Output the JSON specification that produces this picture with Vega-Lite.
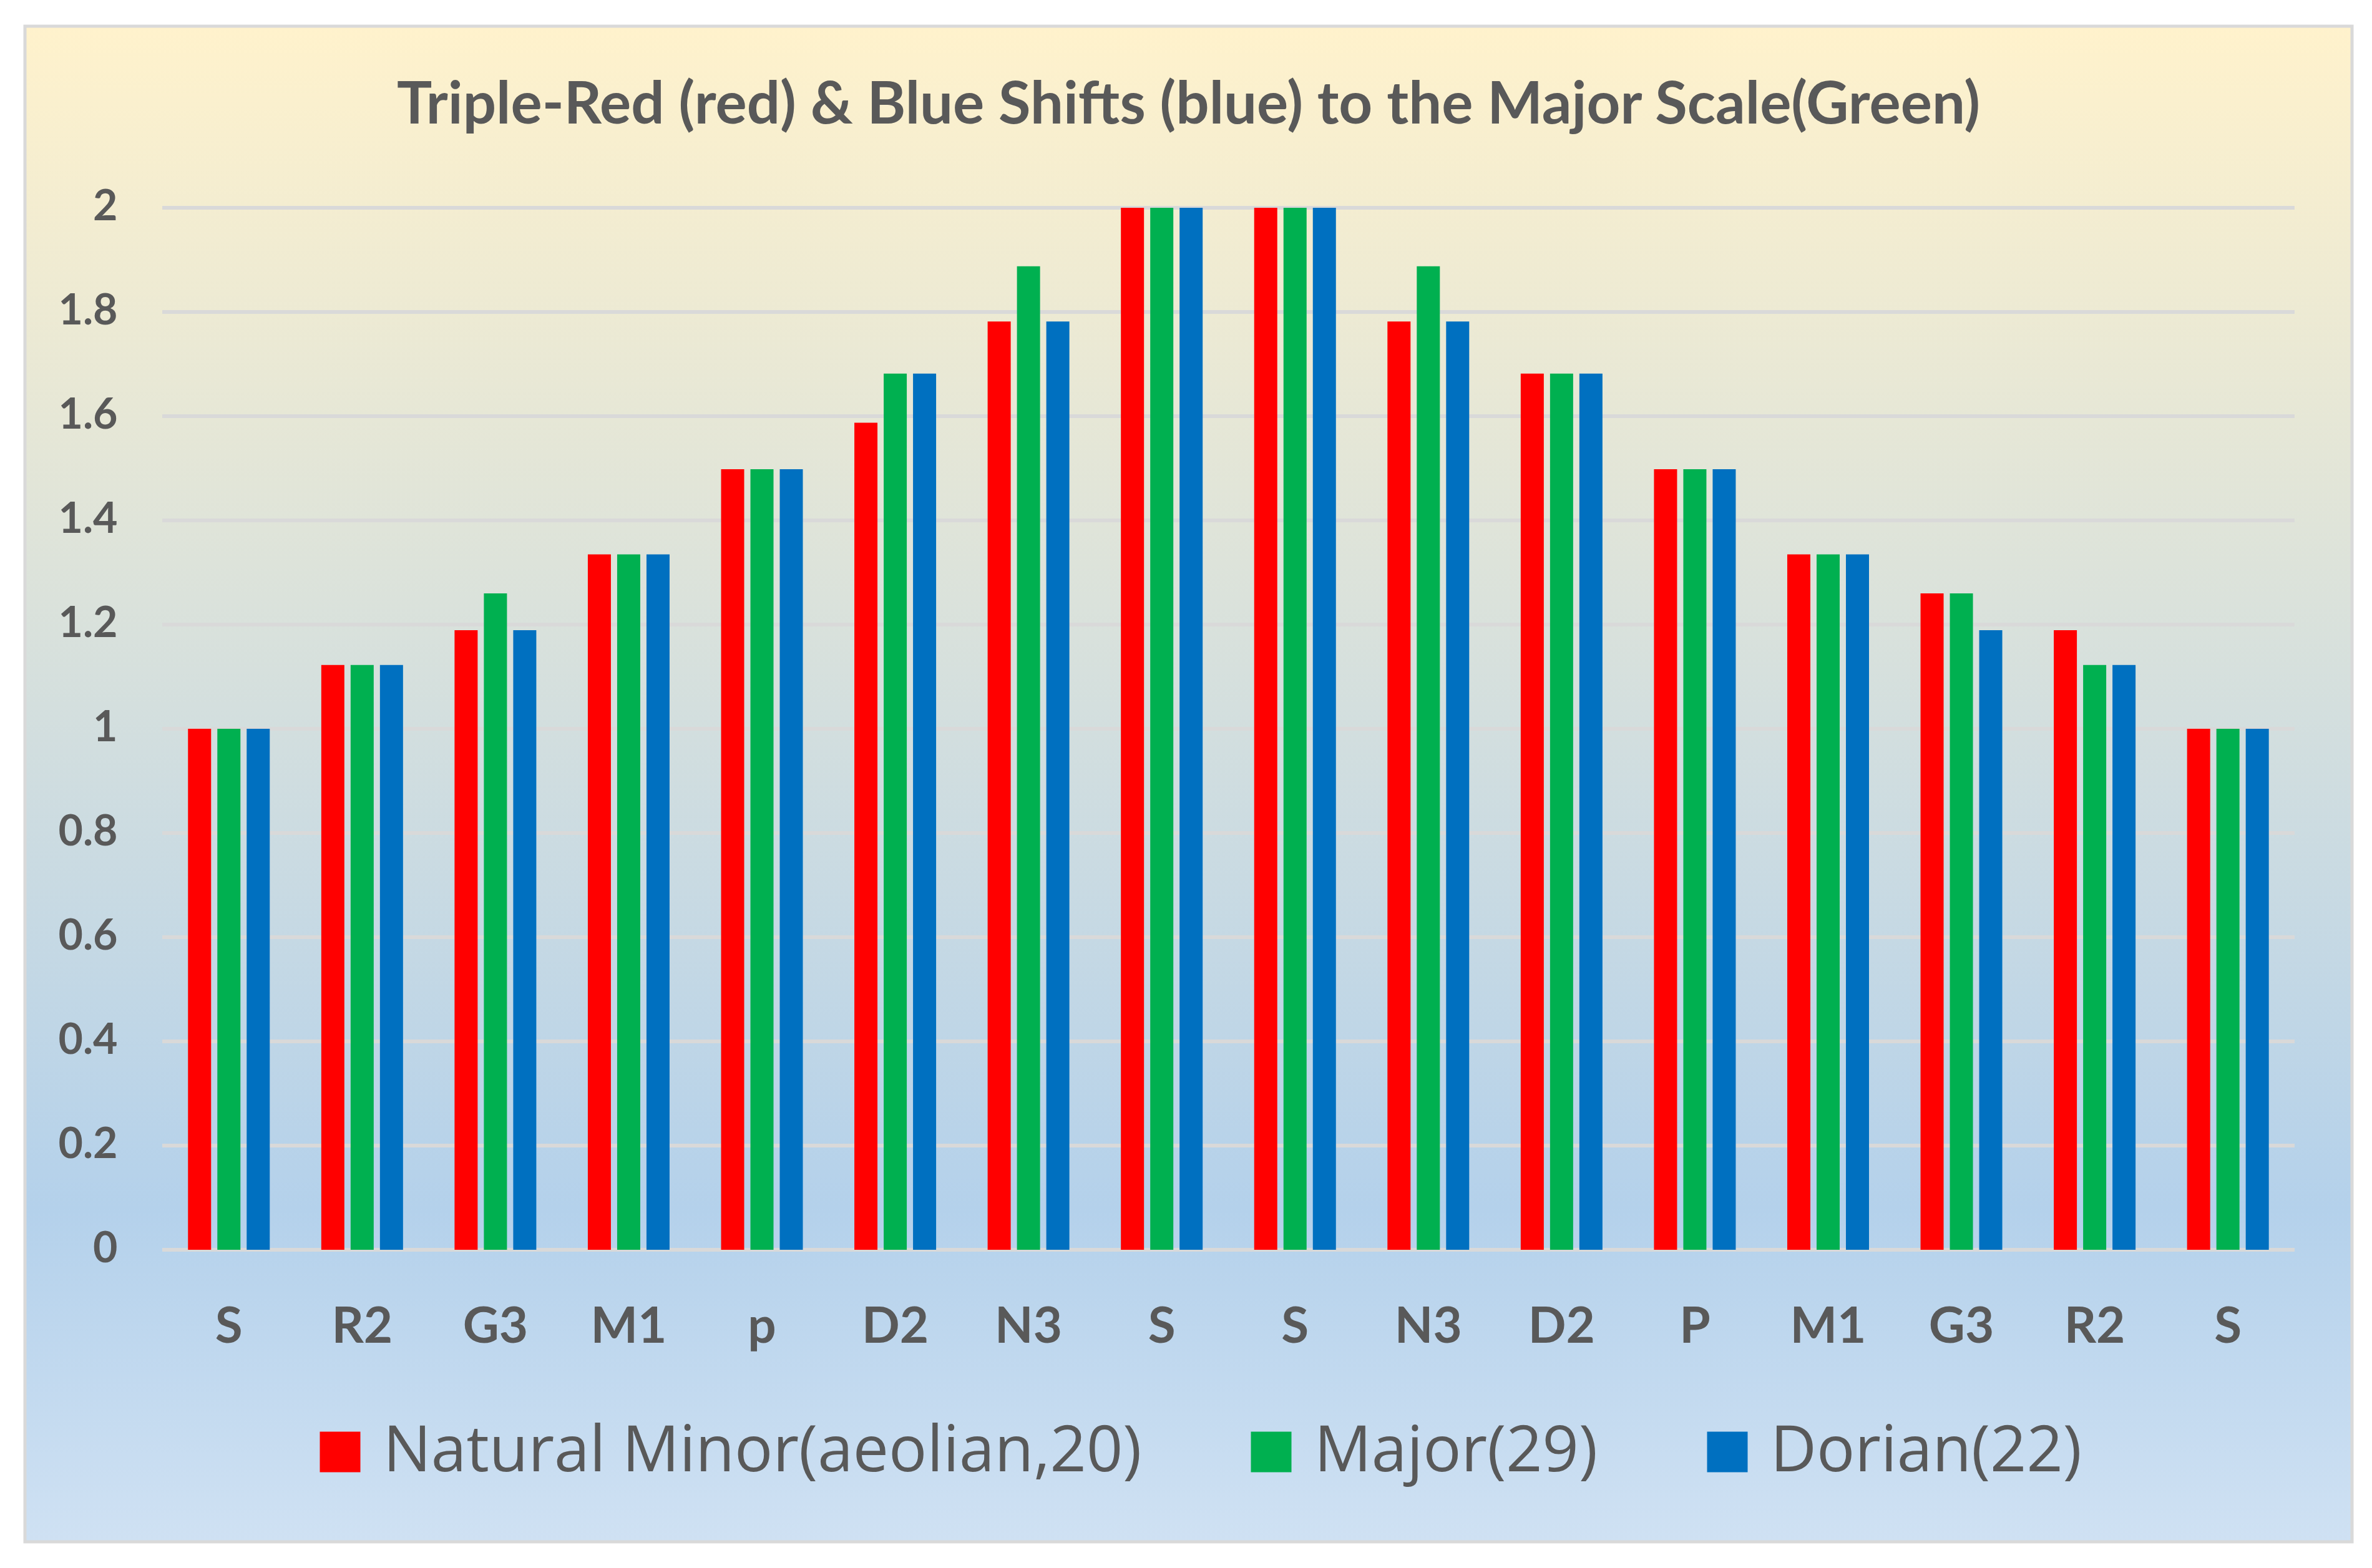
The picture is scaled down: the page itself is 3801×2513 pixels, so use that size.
{
  "$schema": "https://vega.github.io/schema/vega-lite/v6.json",
  "width": 3729,
  "height": 2429,
  "autosize": {"type": "none"},
  "padding": {"left": 40, "top": 42, "right": 32, "bottom": 42},
  "background": "#FFFFFF",
  "view": {
    "fill": {
      "gradient": "linear", "x1": 0, "y1": 0, "x2": 0, "y2": 1,
      "stops": [
        {"offset": 0, "color": "#FFF2CC"},
        {"offset": 0.78, "color": "#B4D1EB"},
        {"offset": 1, "color": "#CFE1F3"}
      ]
    },
    "stroke": "#D9D9D9",
    "strokeWidth": 5
  },
  "title": {
    "text": "Triple-Red (red) & Blue Shifts (blue) to the Major Scale(Green)",
    "anchor": "middle",
    "frame": "group",
    "offset": -250,
    "baseline": "alphabetic",
    "font": "Lato",
    "fontWeight": "bold",
    "fontSize": 94,
    "color": "#595959"
  },
  "config": {
    "axisX": {
      "title": null,
      "domain": false,
      "ticks": false,
      "tickSize": 0,
      "grid": false,
      "labelPadding": 0,
      "offset": -320,
      "labelBaseline": "alphabetic",
      "labelAngle": 0,
      "labelFont": "Lato",
      "labelFontWeight": "bold",
      "labelFontSize": 80,
      "labelColor": "#595959",
      "labelOverlap": false
    },
    "axisY": {
      "title": null,
      "domain": false,
      "ticks": false,
      "tickSize": 0,
      "grid": false,
      "labelPadding": 0,
      "offset": -148,
      "labelFont": "Lato",
      "labelFontWeight": "bold",
      "labelFontSize": 68,
      "labelColor": "#595959",
      "labelOverlap": false,
      "labelFlush": false
    }
  },
  "datasets": {
    "grid": [
      {"v": 0}, {"v": 0.2}, {"v": 0.4}, {"v": 0.6}, {"v": 0.8}, {"v": 1},
      {"v": 1.2}, {"v": 1.4}, {"v": 1.6}, {"v": 1.8}, {"v": 2}
    ],
    "bars": [
      {"degree": "S|0", "scale": "Natural Minor(aeolian,20)", "ratio": 1},
      {"degree": "S|0", "scale": "Major(29)", "ratio": 1},
      {"degree": "S|0", "scale": "Dorian(22)", "ratio": 1},
      {"degree": "R2|1", "scale": "Natural Minor(aeolian,20)", "ratio": 1.1225},
      {"degree": "R2|1", "scale": "Major(29)", "ratio": 1.1225},
      {"degree": "R2|1", "scale": "Dorian(22)", "ratio": 1.1225},
      {"degree": "G3|2", "scale": "Natural Minor(aeolian,20)", "ratio": 1.1892},
      {"degree": "G3|2", "scale": "Major(29)", "ratio": 1.2599},
      {"degree": "G3|2", "scale": "Dorian(22)", "ratio": 1.1892},
      {"degree": "M1|3", "scale": "Natural Minor(aeolian,20)", "ratio": 1.3348},
      {"degree": "M1|3", "scale": "Major(29)", "ratio": 1.3348},
      {"degree": "M1|3", "scale": "Dorian(22)", "ratio": 1.3348},
      {"degree": "p|4", "scale": "Natural Minor(aeolian,20)", "ratio": 1.4983},
      {"degree": "p|4", "scale": "Major(29)", "ratio": 1.4983},
      {"degree": "p|4", "scale": "Dorian(22)", "ratio": 1.4983},
      {"degree": "D2|5", "scale": "Natural Minor(aeolian,20)", "ratio": 1.5874},
      {"degree": "D2|5", "scale": "Major(29)", "ratio": 1.6818},
      {"degree": "D2|5", "scale": "Dorian(22)", "ratio": 1.6818},
      {"degree": "N3|6", "scale": "Natural Minor(aeolian,20)", "ratio": 1.7818},
      {"degree": "N3|6", "scale": "Major(29)", "ratio": 1.8877},
      {"degree": "N3|6", "scale": "Dorian(22)", "ratio": 1.7818},
      {"degree": "S|7", "scale": "Natural Minor(aeolian,20)", "ratio": 2},
      {"degree": "S|7", "scale": "Major(29)", "ratio": 2},
      {"degree": "S|7", "scale": "Dorian(22)", "ratio": 2},
      {"degree": "S|8", "scale": "Natural Minor(aeolian,20)", "ratio": 2},
      {"degree": "S|8", "scale": "Major(29)", "ratio": 2},
      {"degree": "S|8", "scale": "Dorian(22)", "ratio": 2},
      {"degree": "N3|9", "scale": "Natural Minor(aeolian,20)", "ratio": 1.7818},
      {"degree": "N3|9", "scale": "Major(29)", "ratio": 1.8877},
      {"degree": "N3|9", "scale": "Dorian(22)", "ratio": 1.7818},
      {"degree": "D2|10", "scale": "Natural Minor(aeolian,20)", "ratio": 1.6818},
      {"degree": "D2|10", "scale": "Major(29)", "ratio": 1.6818},
      {"degree": "D2|10", "scale": "Dorian(22)", "ratio": 1.6818},
      {"degree": "P|11", "scale": "Natural Minor(aeolian,20)", "ratio": 1.4983},
      {"degree": "P|11", "scale": "Major(29)", "ratio": 1.4983},
      {"degree": "P|11", "scale": "Dorian(22)", "ratio": 1.4983},
      {"degree": "M1|12", "scale": "Natural Minor(aeolian,20)", "ratio": 1.3348},
      {"degree": "M1|12", "scale": "Major(29)", "ratio": 1.3348},
      {"degree": "M1|12", "scale": "Dorian(22)", "ratio": 1.3348},
      {"degree": "G3|13", "scale": "Natural Minor(aeolian,20)", "ratio": 1.2599},
      {"degree": "G3|13", "scale": "Major(29)", "ratio": 1.2599},
      {"degree": "G3|13", "scale": "Dorian(22)", "ratio": 1.1892},
      {"degree": "R2|14", "scale": "Natural Minor(aeolian,20)", "ratio": 1.1892},
      {"degree": "R2|14", "scale": "Major(29)", "ratio": 1.1225},
      {"degree": "R2|14", "scale": "Dorian(22)", "ratio": 1.1225},
      {"degree": "S|15", "scale": "Natural Minor(aeolian,20)", "ratio": 1},
      {"degree": "S|15", "scale": "Major(29)", "ratio": 1},
      {"degree": "S|15", "scale": "Dorian(22)", "ratio": 1}
    ]
  },
  "layer": [
    {
      "data": {"name": "grid"},
      "mark": {"type": "rule", "color": "#D9D9D9", "strokeWidth": 6},
      "encoding": {
        "x": {
          "datum": "S|0", "type": "nominal", "bandPosition": 0,
          "axis": {"title": null, "labelExpr": "split(datum.value, '|')[0]"}
        },
        "x2": {"datum": "S|15", "bandPosition": 1},
        "y": {
          "field": "v", "type": "quantitative",
          "axis": {"title": null, "values": [0, 0.2, 0.4, 0.6, 0.8, 1, 1.2, 1.4, 1.6, 1.8, 2], "format": "~g"}
        }
      }
    },
    {
      "data": {"name": "bars"},
      "mark": {"type": "bar"},
      "encoding": {
        "x": {
          "field": "degree",
          "type": "nominal",
          "scale": {
            "domain": ["S|0", "R2|1", "G3|2", "M1|3", "p|4", "D2|5", "N3|6", "S|7", "S|8", "N3|9", "D2|10", "P|11", "M1|12", "G3|13", "R2|14", "S|15"],
            "paddingInner": 0,
            "paddingOuter": 0.7306,
            "align": 0.705
          },
          "axis": {"title": null, "labelExpr": "split(datum.value, '|')[0]"}
        },
        "xOffset": {
          "field": "scale",
          "type": "nominal",
          "scale": {
            "domain": ["Natural Minor(aeolian,20)", "Major(29)", "Dorian(22)"],
            "paddingInner": 0.2128,
            "paddingOuter": 0.878
          }
        },
        "y": {
          "field": "ratio",
          "type": "quantitative",
          "scale": {"domain": [-0.5605, 2.3485], "nice": false, "zero": false},
          "axis": {"title": null, "values": [0, 0.2, 0.4, 0.6, 0.8, 1, 1.2, 1.4, 1.6, 1.8, 2], "format": "~g"}
        },
        "y2": {"datum": 0},
        "color": {
          "field": "scale",
          "type": "nominal",
          "scale": {
            "domain": ["Natural Minor(aeolian,20)", "Major(29)", "Dorian(22)"],
            "range": ["#FF0000", "#00B050", "#0070C0"]
          },
          "legend": {
            "title": null,
            "orient": "none",
            "legendX": 454,
            "legendY": 2234,
            "direction": "horizontal",
            "symbolType": "square",
            "symbolSize": 4225,
            "symbolStrokeWidth": 0,
            "symbolOpacity": 1,
            "labelFont": "Open Sans",
            "labelFontSize": 102,
            "labelColor": "#595959",
            "labelOffset": 18,
            "labelLimit": 3000,
            "columnPadding": 156,
            "padding": 0
          }
        }
      }
    }
  ]
}
